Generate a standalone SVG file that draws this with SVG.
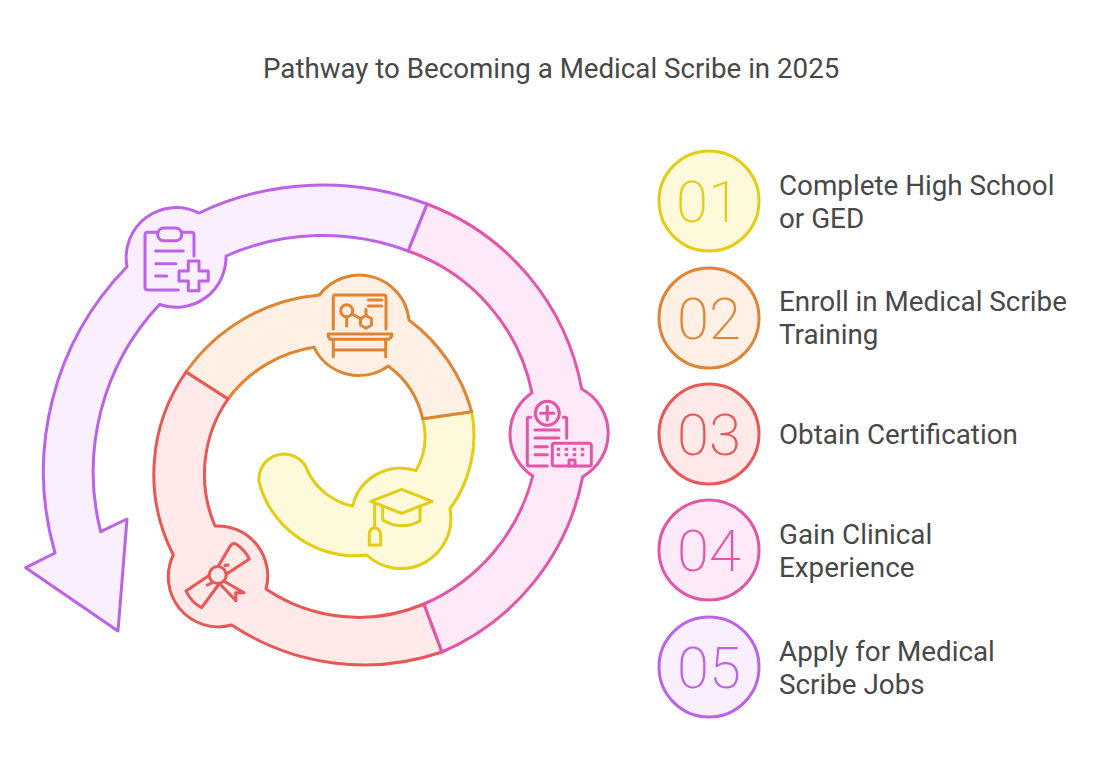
<svg xmlns="http://www.w3.org/2000/svg" width="1102" height="770" viewBox="0 0 1102 770">
<style>
text{font-family:Roboto,"Liberation Sans",sans-serif;fill:#484848}
.t{font-size:27.8px}
.title{font-size:27.7px}
.n{font-size:58px;font-weight:200;text-anchor:middle}
.s{stroke-width:3;stroke-linejoin:round;stroke-linecap:round}
.i{fill:none;stroke-width:3;stroke-linejoin:round;stroke-linecap:round}
.y{stroke:#E3CD12}.yf{fill:#FEF9DB}
.o{stroke:#E08431}.of{fill:#FFF0E5}
.r{stroke:#E85656}.rf{fill:#FFE9E9}
.p{stroke:#E255A9}.pf{fill:#FDE9F7}
.v{stroke:#BC62E8}.vf{fill:#F9EFFF}
</style>
<rect width="1102" height="770" fill="#fff"/>
<text class="title" x="263" y="77.5">Pathway to Becoming a Medical Scribe in 2025</text>
<g id="ring">
<path class="s y yf" d="M422.7,418.7 L471.7,411.7 A125,125 0 0 1 450,509 A50,50 0 0 1 366.7,555 A100,100 0 0 1 259.5,484 A25,25 0 0 1 308,472 A65,65 0 0 0 352.7,506 A49,49 0 0 1 416,470.7 A70,70 0 0 0 422.7,418.7Z"/>
<path class="s o of" d="M186,372 A182,182 0 0 1 319.3,295 A50,50 0 0 1 409,320 A172,172 0 0 1 471.7,411.7 L422.7,418.7 A90,90 0 0 0 388.3,366 A50,50 0 0 1 314,347.3 A132,132 0 0 0 228,399Z"/>
<path class="s r rf" d="M186,372 A178,178 0 0 0 173.3,555 A50,50 0 0 0 231.7,625 A240,240 0 0 0 442,652 L424,604 A166,166 0 0 1 266,589 A50,50 0 0 0 215,526 A132,132 0 0 1 228,399Z"/>
<path class="s p pf" d="M427,204 A245,245 0 0 1 581.7,389 A50,50 0 0 1 582.7,476.7 A240,240 0 0 1 442,652 L424,604 A190,190 0 0 0 532.7,476 A50,50 0 0 1 532,392.7 A190,190 0 0 0 408,251Z"/>
<path class="s v vf" d="M427,204 A290,290 0 0 0 199,213 A50,50 0 0 0 127,266.7 A293,293 0 0 0 55,553 L25.7,567.7 L118,631 L127,519 L100.7,531.7 A244,244 0 0 1 159.5,304.5 A50,50 0 0 0 226,256 A240,240 0 0 1 408,251Z"/>
</g>
<g id="step1-icon" class="i y">
<path d="M370.7,501.3 L401.7,489.3 L432.3,501.3 L401.7,513.3Z"/>
<path d="M382.7,506 V520 Q401,531 420,521 V506.7"/>
<path d="M374.7,503 V528"/>
<path d="M369.3,545 H380.7 V535 Q380,528 374.7,528 Q369.3,528 369.3,535Z"/>
</g>
<g id="step2-icon" class="i o">
<path d="M333.3,329 V297 Q333.3,295 335,295 H384 Q386,295 386,297 V329"/>
<path d="M368.3,300 H381.7 M368.3,306 H381.7"/>
<circle cx="346.7" cy="310.7" r="6"/>
<path d="M366,315.5 L371.5,318.7 V325 L366,328.3 L360.5,325 V318.7Z"/>
<path d="M346.7,317 V326 M352,314 L361,319 M366,309.3 V315.5"/>
<path d="M330,339.3 H389 Q392,337 392,334 H328 Q328,337 330,339.3Z"/>
<path d="M333.3,339.3 V356.7 M385.7,339.3 V356.7 M333.3,350 H385.7"/>
</g>
<g id="step3-icon" class="i r">
<circle cx="217.7" cy="575" r="8.5"/>
<path d="M218.3,566 L231,545 Q233.3,542.5 236,544 Q245,550 249.3,559 L226.7,574"/>
<path d="M208.3,576 L186,591 Q191,602 201.7,607.7 L218.3,585"/>
<path d="M225,581.7 L244,592.7 L235.7,592.7 L236,600.7 L220,584"/>
<path d="M225,565.5 L228,565 M207.3,585 L211,583.3"/>
</g>
<g id="step4-icon" class="i p">
<circle cx="547.3" cy="413.3" r="12"/>
<path d="M547.3,406.6 V420 M540.6,413.3 H554"/>
<path d="M530.7,417.3 H529 Q527.3,417.3 527.3,419 V464 Q527.3,466 529,466 H547.3"/>
<path d="M563.3,417.3 H565 Q566.7,417.3 566.7,419 V438.3"/>
<path d="M535,430 H559 M535,438 H559 M535,446.7 H547.3 M535,454.7 H547.3"/>
<rect x="552.3" y="443.3" width="39" height="22.7" rx="2"/>
<path d="M556.7,449.3 H587.3 M556.7,454.7 H587.3" stroke-dasharray="3.5 4.5" stroke-linecap="butt"/>
<path d="M569,466 V460 H575 V466"/>
</g>
<g id="step5-icon" class="i v">
<path d="M178.3,290 H148 Q145,290 145,287 V235 Q145,232.3 148,232.3 H157.7 M181.7,232.3 H191 Q194,232.3 194,235 V256"/>
<rect x="157.7" y="228" width="24" height="12.7" rx="6"/>
<path d="M155.7,251 H183.3 M155.7,263.7 H176 M155.7,276 H166.7"/>
<path d="M188.3,261 H199 V271 H208.3 V281 H199 V290.7 H188.3 V281 H179 V271 H188.3Z"/>
</g>
<g id="step1">
<circle class="s y yf" cx="709" cy="201" r="50"/>
<text class="n" x="708" y="221.5" style="fill:#E3CD12">01</text>
<text class="t" x="779" y="195">Complete High School</text>
<text class="t" x="779" y="228">or GED</text>
</g>
<g id="step2">
<circle class="s o of" cx="709" cy="318" r="50"/>
<text class="n" x="709" y="338.5" style="fill:#E08431">02</text>
<text class="t" x="779" y="311">Enroll in Medical Scribe</text>
<text class="t" x="779" y="344">Training</text>
</g>
<g id="step3">
<circle class="s r rf" cx="709" cy="434" r="50"/>
<text class="n" x="709" y="454.5" style="fill:#E85656">03</text>
<text class="t" x="779" y="444">Obtain Certification</text>
</g>
<g id="step4">
<circle class="s p pf" cx="709" cy="550" r="50"/>
<text class="n" x="709" y="570.5" style="fill:#E255A9">04</text>
<text class="t" x="779" y="544">Gain Clinical</text>
<text class="t" x="779" y="577">Experience</text>
</g>
<g id="step5">
<circle class="s v vf" cx="709" cy="667" r="50"/>
<text class="n" x="709" y="687.5" style="fill:#BC62E8">05</text>
<text class="t" x="779" y="661">Apply for Medical</text>
<text class="t" x="779" y="694">Scribe Jobs</text>
</g>
</svg>
